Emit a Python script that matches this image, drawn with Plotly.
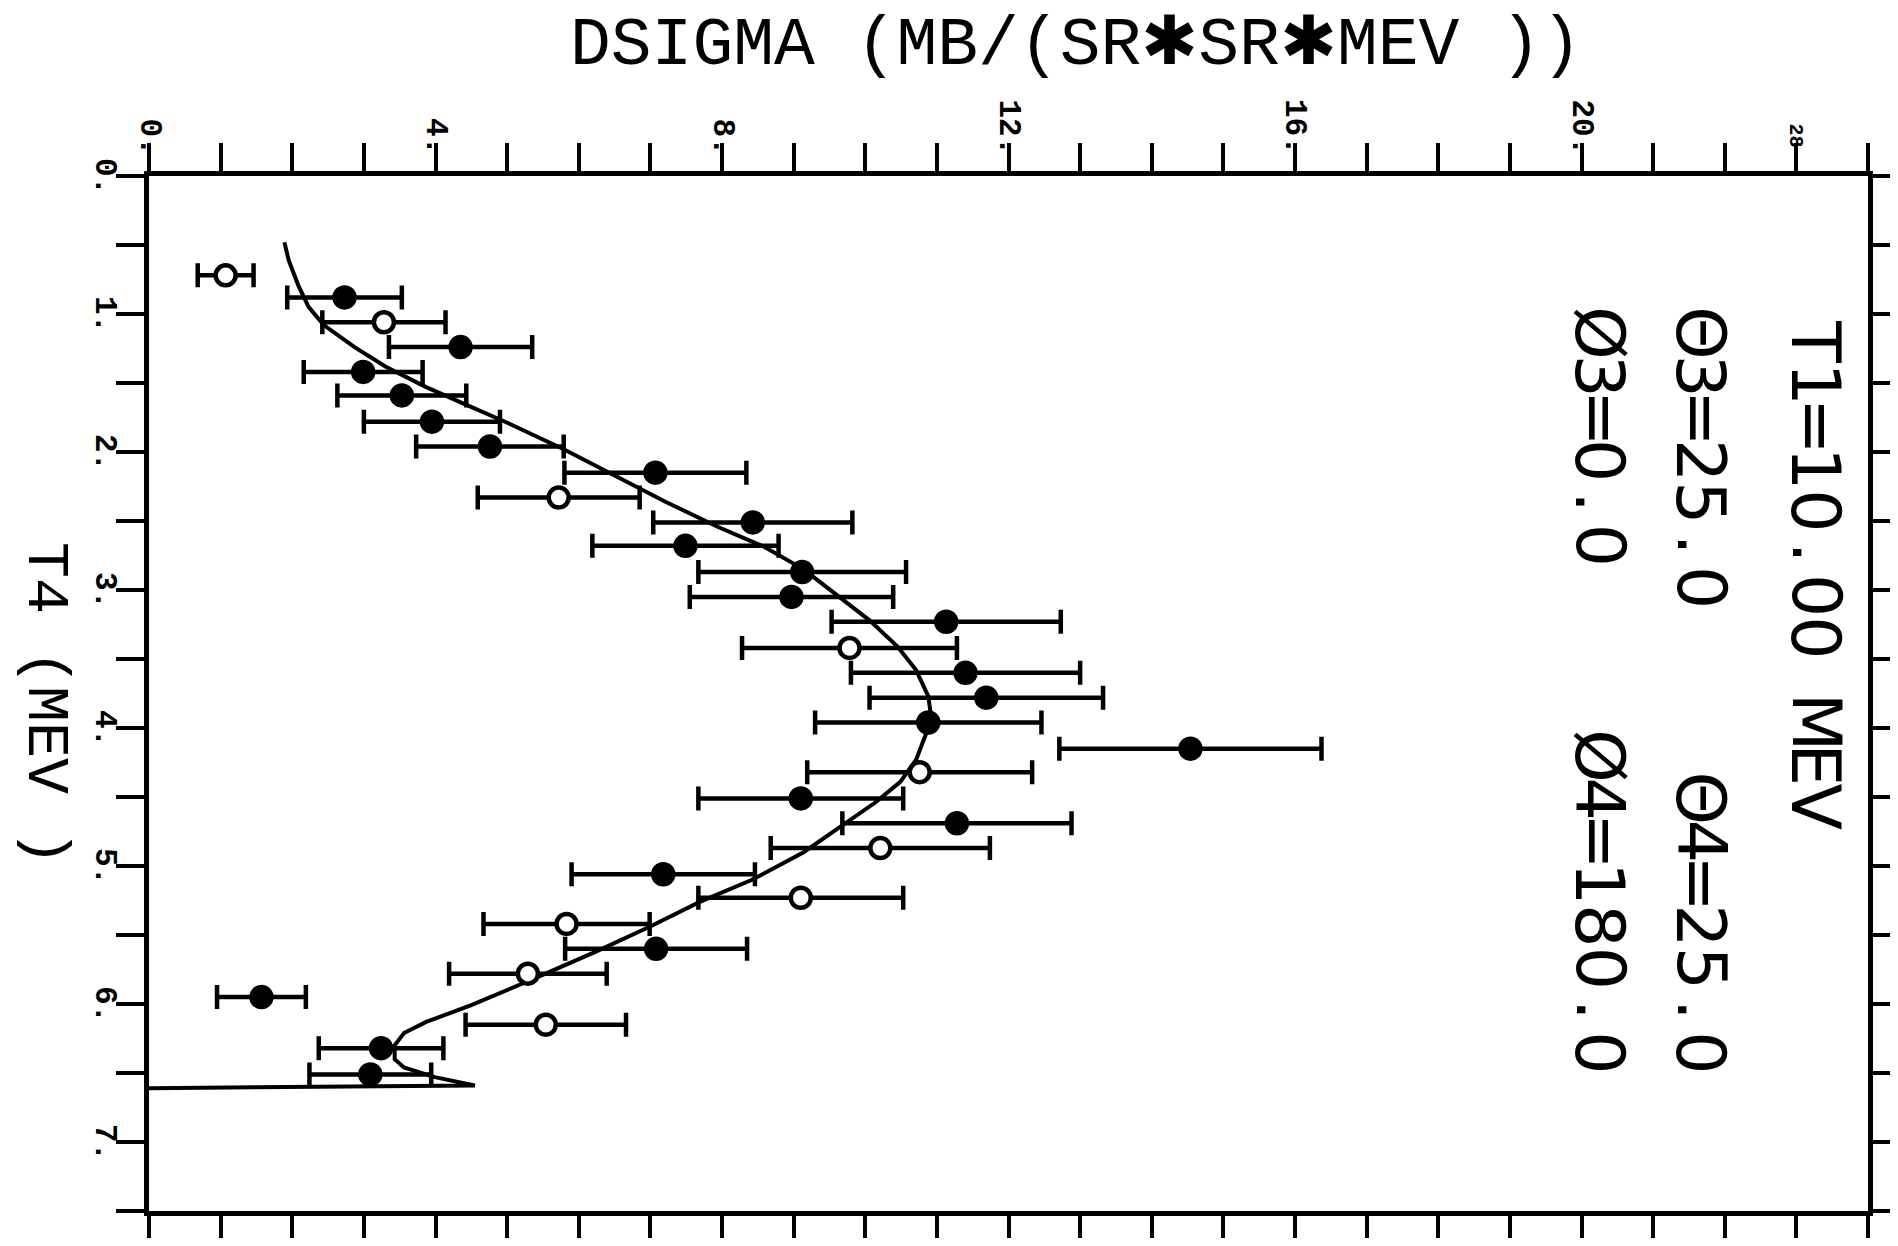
import plotly.graph_objects as go

# ---- data ----
t4 = [0.72, 0.88, 1.06, 1.24, 1.42, 1.59, 1.78, 1.96, 2.15, 2.33, 2.51, 2.68, 2.87, 3.05,
      3.23, 3.42, 3.60, 3.78, 3.96, 4.15, 4.32, 4.51, 4.69, 4.87, 5.06, 5.23, 5.42, 5.60,
      5.78, 5.95, 6.15, 6.32, 6.51]
dsigma = [1.07, 2.73, 3.28, 4.35, 2.99, 3.53, 3.95, 4.76, 7.07, 5.72, 8.43, 7.49, 9.12, 8.97,
          11.13, 9.78, 11.40, 11.69, 10.88, 14.54, 10.76, 9.10, 11.28, 10.21, 7.18, 9.10, 5.83, 7.08,
          5.29, 1.57, 5.54, 3.24, 3.09]
dsigma_err = [0.39, 0.80, 0.86, 1.00, 0.83, 0.90, 0.95, 1.03, 1.27, 1.13, 1.39, 1.30, 1.45, 1.42,
              1.60, 1.50, 1.60, 1.63, 1.58, 1.83, 1.57, 1.43, 1.60, 1.53, 1.28, 1.43, 1.16, 1.27,
              1.10, 0.62, 1.12, 0.87, 0.85]
point_kind = ["open", "filled", "open", "filled", "filled", "filled", "filled", "filled", "filled",
              "open", "filled", "filled", "filled", "filled", "filled", "open", "filled", "filled",
              "filled", "filled", "open", "filled", "filled", "open", "filled", "open", "open",
              "filled", "open", "filled", "open", "filled", "filled"]

curve_t4 = [0.48, 0.61, 0.80, 0.95, 1.08, 1.24, 1.38, 1.53, 1.66, 1.79, 1.98, 2.16, 2.36, 2.54,
            2.69, 2.85, 3.05, 3.22, 3.41, 3.58, 3.77, 3.92, 4.04, 4.23, 4.39, 4.54, 4.71, 4.90,
            5.10, 5.26, 5.44, 5.62, 5.82, 6.01, 6.13, 6.21, 6.30, 6.40, 6.46, 6.53, 6.59, 6.61]
curve_ds = [1.89, 1.95, 2.09, 2.23, 2.44, 2.87, 3.30, 3.87, 4.44, 5.01, 5.79, 6.46, 7.21, 7.93,
            8.60, 9.14, 9.64, 10.06, 10.45, 10.71, 10.88, 10.92, 10.85, 10.71, 10.49, 10.14, 9.67, 9.14,
            8.42, 7.69, 6.99, 6.24, 5.36, 4.49, 3.87, 3.56, 3.43, 3.43, 3.56, 3.99, 4.55, 0.0]

x_tick_vals = list(range(0, 25))
x_label_vals = [0, 4, 8, 12, 16, 20, 23]
x_label_text = ["0.", "4.", "8.", "12.", "16.", "20.", "28"]
y_tick_vals = [i * 0.5 for i in range(0, 16)]
y_label_vals = [0, 1, 2, 3, 4, 5, 6, 7]
y_label_text = ["0.", "1.", "2.", "3.", "4.", "5.", "6.", "7."]

x_title = "DSIGMA (MB/(SR✱SR✱MEV ))"
y_title = "T4 (MEV )"
info_lines = ["T1=10.00 MEV",
              "Θ3=25.0    Θ4=25.0",
              "Ø3=0.0    Ø4=180.0"]

MONO = "Liberation Mono"
SANS = "DejaVu Sans"

fig = go.Figure()

fig.add_trace(go.Scatter(
    x=curve_ds, y=curve_t4, mode="lines",
    line=dict(color="black", width=4), showlegend=False, hoverinfo="skip"))

for kind in ["filled", "open"]:
    idx = [i for i, k in enumerate(point_kind) if k == kind]
    fig.add_trace(go.Scatter(
        x=[dsigma[i] for i in idx], y=[t4[i] for i in idx], mode="markers",
        error_x=dict(type="data", array=[dsigma_err[i] for i in idx], symmetric=True,
                     color="black", thickness=4.5, width=12),
        marker=dict(size=20, color="black" if kind == "filled" else "white",
                    line=dict(color="black", width=4.5)),
        showlegend=False))

fig.update_xaxes(
    range=[0, 24], side="top", tickmode="array", tickvals=x_tick_vals,
    showticklabels=False,
    ticks="outside", ticklen=28, tickwidth=4, tickcolor="black",
    showline=True, linewidth=5, linecolor="black", mirror="ticks",
    showgrid=False, zeroline=False, automargin=False)
fig.update_yaxes(
    range=[7.5, 0], tickmode="array", tickvals=y_tick_vals,
    showticklabels=False,
    ticks="outside", ticklen=28, tickwidth=4, tickcolor="black",
    showline=True, linewidth=5, linecolor="black", mirror="ticks",
    showgrid=False, zeroline=False, automargin=False)

# page-pixel geometry of the plot frame; the page body adds an 8px margin,
# so the figure is made 16px smaller than the window and offset by 8px
OFF = 8
PAGE_W, PAGE_H = 1898, 1246
W, H = PAGE_W - 2 * OFF, PAGE_H - 2 * OFF
L, R, T, B = 149, 1868, 176, 1211


def px(xp):
    return (xp - L) / (R - L)


def py(yp):
    return (B - yp) / (B - T)


label_font = dict(family=MONO, size=31, color="black", weight="bold")

annotations = [
    dict(text=x_title, xref="paper", yref="paper", x=px(1076), y=py(45),
         xanchor="center", yanchor="middle", showarrow=False,
         font=dict(family=MONO, size=68, color="black")),
    dict(text=y_title, xref="paper", yref="paper", x=px(45), y=py(704),
         xanchor="center", yanchor="middle", showarrow=False, textangle=90,
         font=dict(family=MONO, size=60, color="black")),
]

# tick labels (rotated, plotter style)
for v, t in zip(x_label_vals, x_label_text):
    small = (t == "28")
    annotations.append(dict(
        text=t, xref="x", yref="paper", x=v, y=py(157 if not small else 150),
        xanchor="center", yanchor="bottom", showarrow=False, textangle=90,
        font=dict(family=MONO, size=20 if small else 31, color="black", weight="bold")))
for v, t in zip(y_label_vals, y_label_text):
    annotations.append(dict(
        text=t, xref="paper", yref="y", x=px(105), y=v,
        xanchor="center", yanchor="middle", showarrow=False, textangle=90,
        font=label_font))

# info text, laid out as fixed-pitch characters (plotter style)
CELL = 42.3
line_x = [1816, 1701, 1600]
line_top = [320, 312, 312]
for txt, xc, yt in zip(info_lines, line_x, line_top):
    for i, ch in enumerate(txt):
        if ch == " ":
            continue
        annotations.append(dict(
            text=ch, xref="paper", yref="paper", x=px(xc), y=py(yt + (i + 0.5) * CELL),
            xanchor="center", yanchor="middle", showarrow=False, textangle=90,
            font=dict(family=SANS, size=68, color="black")))

fig.update_layout(
    width=W, height=H, autosize=False,
    margin=dict(l=L - OFF, r=W - (R - OFF), t=T - OFF, b=H - (B - OFF)),
    paper_bgcolor="white", plot_bgcolor="white",
    annotations=annotations, showlegend=False)

fig.write_html("out.html")
